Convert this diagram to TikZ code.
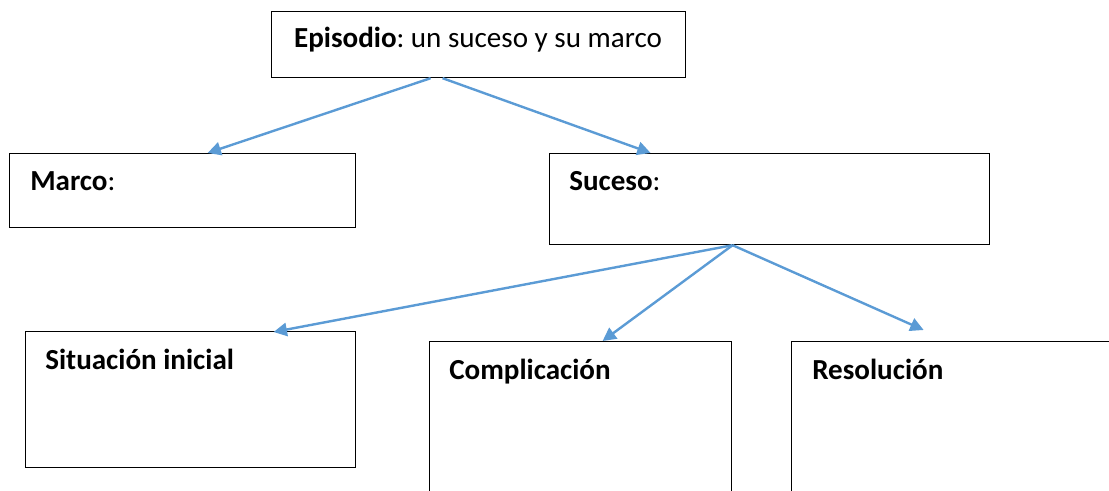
\documentclass[tikz,border=0pt]{standalone}
\usepackage{fontspec}
\setmainfont{Carlito}
\frenchspacing
\usetikzlibrary{arrows,arrows.meta}

\begin{document}
\begin{tikzpicture}[x=0.75pt,y=-0.75pt,
    box/.style={draw=black,line width=0.9pt,rectangle,anchor=north west,inner sep=0pt},
    lbl/.style={anchor=base west,inner sep=0pt},
    conn/.style={draw={rgb,255:red,91;green,155;blue,213},line width=1.8pt,
                 -{Triangle[length=10pt,width=10pt]}}]
  \useasboundingbox (0,0) rectangle (1109,491);
  \clip (0,0) rectangle (1109,491);
  \fontsize{21.8}{26}\selectfont

% boxes
  \node[box,minimum width=414*0.75pt,minimum height=66*0.75pt] (epi) at (271,11) {};
  \node at (478,48) [anchor=base] {\textbf{Episodio}: un suceso y su marco};
  \node[box,minimum width=346*0.75pt,minimum height=74*0.75pt] (marco) at (9,153) {};
  \node[box,minimum width=440*0.75pt,minimum height=91*0.75pt] (suceso) at (549,153) {};
  \node[box,minimum width=330*0.75pt,minimum height=136*0.75pt] (sit) at (25,331) {};
  \node[box,minimum width=302*0.75pt,minimum height=200*0.75pt] (comp) at (429,341) {};
  \node[box,minimum width=340*0.75pt,minimum height=200*0.75pt] (reso) at (791,341) {};

% labels
  \node[lbl] at ([shift={(21,38)}]marco.north west) {\textbf{Marco}:};
  \node[lbl] at ([shift={(20,38)}]suceso.north west) {\textbf{Suceso}:};
  \node[lbl] at ([shift={(20,38)}]sit.north west) {\textbf{Situación inicial}};
  \node[lbl] at ([shift={(20,38)}]comp.north west) {\textbf{Complicación}};
  \node[lbl] at ([shift={(21,38)}]reso.north west) {\textbf{Resolución}};

% arrows
  \draw[conn] ([shift={(-48,0)}]epi.south) -- ([shift={(25,0)}]marco.north);
  \draw[conn] ([shift={(-36,0)}]epi.south) -- ([shift={(-119,0)}]suceso.north);
  \draw[conn] ([shift={(-37,0)}]suceso.south) -- ([shift={(83,1)}]sit.north);
  \draw[conn] ([shift={(-37,0)}]suceso.south) -- ([shift={(22,0)}]comp.north);
  \draw[conn] ([shift={(-37,0)}]suceso.south) -- ([shift={(-38,-11)}]reso.north);

\end{tikzpicture}
\end{document}
